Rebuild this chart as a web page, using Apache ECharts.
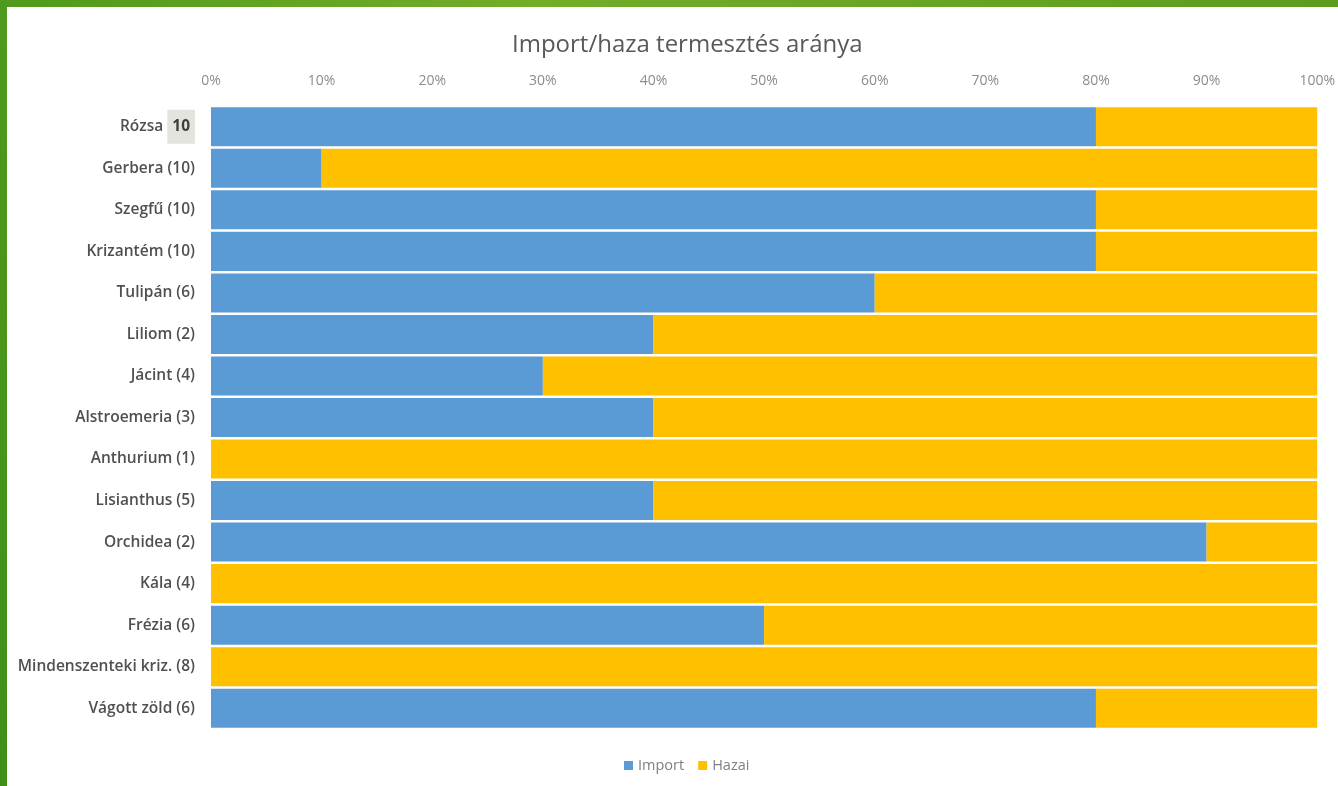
<!DOCTYPE html>
<html><head><meta charset="utf-8">
<script src="https://cdn.jsdelivr.net/npm/echarts@6/dist/echarts.min.js"></script>
<style>
html,body{margin:0;padding:0;width:1338px;height:786px;overflow:hidden;background:#fff;}
#top{position:absolute;left:0;top:0;width:1338px;height:7px;background:linear-gradient(90deg,#4f9a1c,#74ad28 40%,#5c9c1e);}
#left{position:absolute;left:0;top:0;width:7px;height:786px;background:linear-gradient(180deg,#4f9a1c,#3f8f18);}
#chart{position:absolute;left:0;top:0;width:1338px;height:786px;}
</style></head>
<body>
<div id="top"></div><div id="left"></div>
<div id="chart"></div>
<script>
const categories = ['Rózsa 10','Gerbera (10)','Szegfű (10)','Krizantém (10)','Tulipán (6)','Liliom (2)','Jácint (4)','Alstroemeria (3)','Anthurium (1)','Lisianthus (5)','Orchidea (2)','Kála (4)','Frézia (6)','Mindenszenteki kriz. (8)','Vágott zöld (6)'];
const importVals = [80,10,80,80,60,40,30,40,0,40,90,0,50,0,80];
const hazaiVals = [20,90,20,20,40,60,70,60,100,60,10,100,50,100,20];
const seriesNames = ['Import','Hazai'];
const titleText = 'Import/haza termesztés aránya';

const chart = echarts.init(document.getElementById('chart'));
chart.setOption({
  backgroundColor: 'transparent',
  animation: false,
  title: {text: titleText, left: 507, top: 28, textStyle: {fontFamily: 'Open Sans', fontSize: 24, fontWeight: 'normal', color: '#595959'}},
  legend: {data: seriesNames, bottom: 8, left: 619, icon: 'rect', itemWidth: 9, itemHeight: 9, itemGap: 14,
    textStyle: {fontFamily: 'Open Sans', fontSize: 14.5, color: '#7f7f7f'}},
  grid: {left: 211, right: 19, top: 106, bottom: 57, containLabel: false},
  xAxis: {type: 'value', position: 'top', min: 0, max: 100, interval: 10,
    axisLabel: {formatter: '{value}%', color: '#8c8c8c', fontFamily: 'Open Sans', fontSize: 14, margin: 18},
    axisLine: {show: false}, axisTick: {show: false}, splitLine: {show: false}},
  yAxis: {type: 'category', data: categories, inverse: true,
    axisLine: {show: false}, axisTick: {show: false},
    axisLabel: {margin: 16, color: '#505050', fontFamily: 'Open Sans', fontSize: 15.5, fontWeight: 600,
      formatter: function(v){ if (v === 'Rózsa 10') return '{n|Rózsa }{b|10}'; return v; },
      rich: {n: {color: '#505050', fontFamily: 'Open Sans', fontSize: 15.5, fontWeight: 600},
             b: {color: '#404040', fontFamily: 'Open Sans', fontSize: 15.5, fontWeight: 'bold', backgroundColor: '#e4e4de', padding: [9, 5, 9, 5]}}}},
  series: [
    {name: seriesNames[0], type: 'bar', stack: 's', data: importVals, barCategoryGap: '6%', itemStyle: {color: '#5b9bd5'}},
    {name: seriesNames[1], type: 'bar', stack: 's', data: hazaiVals, barCategoryGap: '6%', itemStyle: {color: '#ffc000'}}
  ]
});
</script>
</body></html>
